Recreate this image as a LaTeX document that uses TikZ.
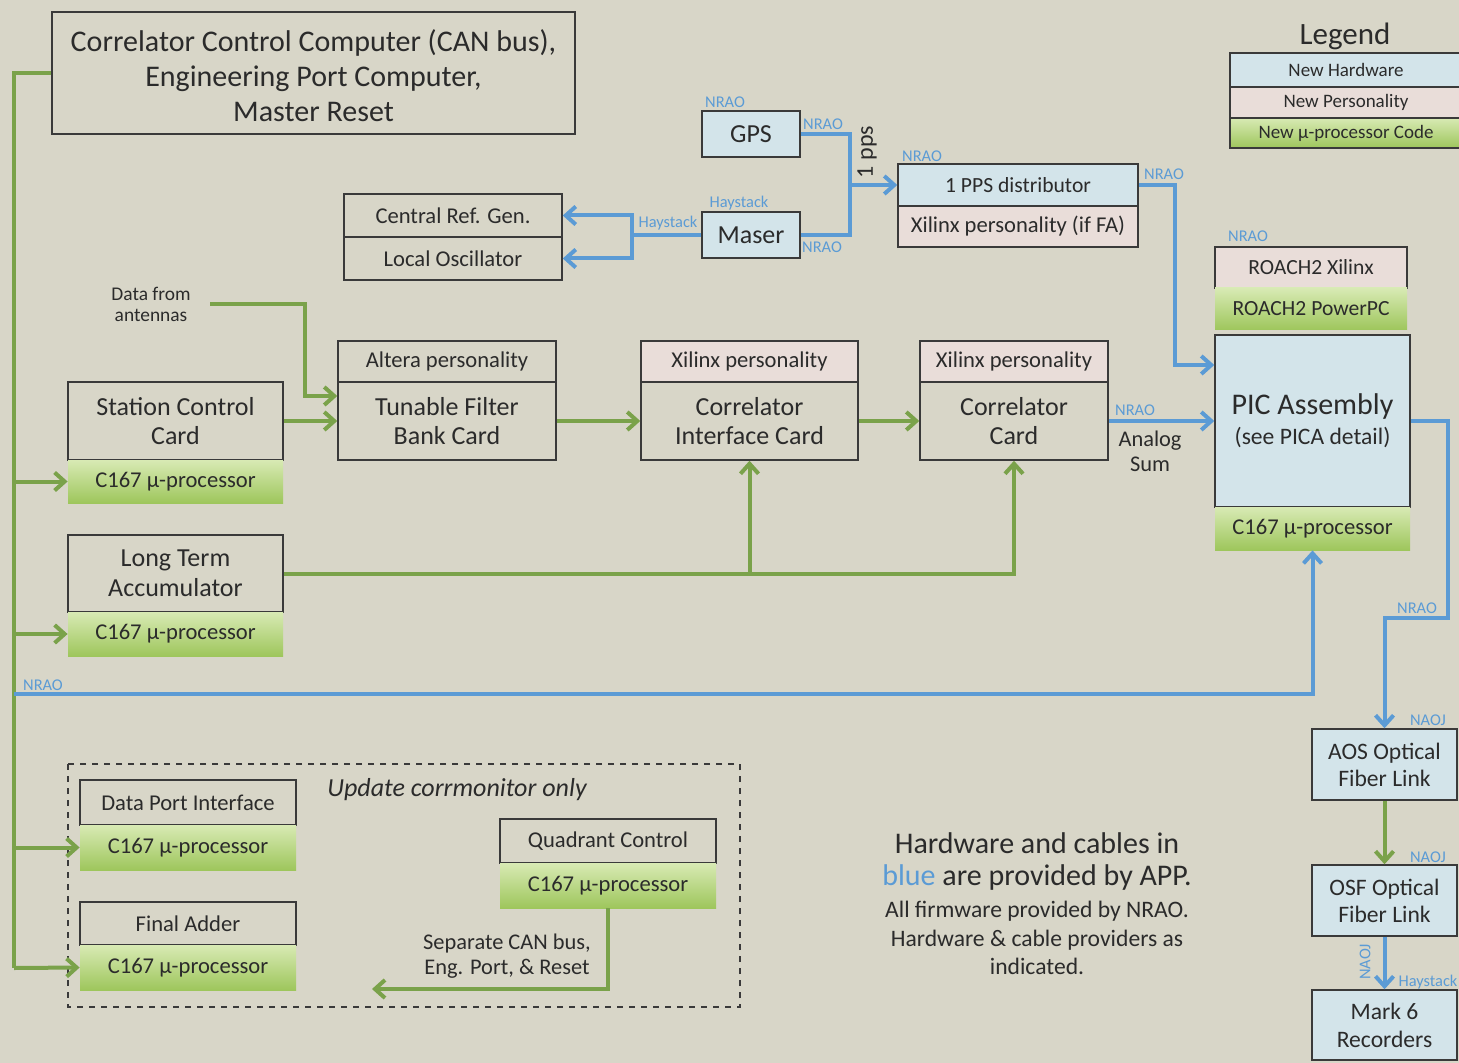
\documentclass[tikz,border=0pt]{standalone}
\usepackage{fontspec}
\setmainfont{Carlito}
\usetikzlibrary{arrows.meta,calc}
\definecolor{bg}{HTML}{D8D6C8}
\definecolor{hwblue}{HTML}{D3E4EA}
\definecolor{perspink}{HTML}{E9DDD9}
\definecolor{gtop}{HTML}{D8EAB4}
\definecolor{gbot}{HTML}{9EC65C}
\definecolor{gline}{HTML}{7AA24A}
\definecolor{bline}{HTML}{5B9BD5}
\definecolor{txt}{HTML}{2B2B2B}
\definecolor{edge}{HTML}{3A3A3A}
\newcommand{\fbig}{\fontsize{15}{17.5}\selectfont}
\newcommand{\fmain}{\fontsize{13}{14.8}\selectfont}
\newcommand{\fone}{\fontsize{11.3}{13}\selectfont}
\newcommand{\fsm}{\fontsize{11.2}{12.5}\selectfont}
\newcommand{\flab}{\fontsize{8.2}{9}\selectfont}
\tikzset{
  bx/.style={draw=edge, line width=0.75pt, inner sep=0pt, align=center, text=txt, font=\fone},
  plain/.style={bx},
  hw/.style={bx, fill=hwblue},
  pers/.style={bx, fill=perspink},
  upc/.style={inner sep=0pt, align=center, text=txt, font=\fone, top color=gtop, bottom color=gbot, draw=none},
  glin/.style={draw=gline, line width=2pt},
  gar/.style={glin, -{Straight Barb[length=5pt,width=9pt]}},
  blin/.style={draw=bline, line width=2pt},
  bar/.style={blin, -{Straight Barb[length=5pt,width=9pt]}},
  lab/.style={text=bline, font=\flab, inner sep=0pt},
  note/.style={text=txt, align=center, inner sep=0pt},
}
\begin{document}
\begin{tikzpicture}[x=0.5pt,y=-0.5pt]
\useasboundingbox (0,0) rectangle (1459,1063);
\fill[bg] (0,0) rectangle (1459,1063);

% dashed group
\draw[edge, line width=0.75pt, dashed] (68,764) rectangle (740,1007);

% top computer
\node[plain, minimum width=261.5pt, minimum height=61pt] (ccc) at (313.5,73) {};
\node[note, font=\fbig] (ccct) at (313.5,76)
  {Correlator Control Computer (CAN bus),\\Engineering Port Computer,\\Master Reset};

% timing
\node[hw, font=\fmain, minimum width=49pt, minimum height=23pt] (gps) at (751,134) {GPS};
\node[hw, font=\fmain, minimum width=49pt, minimum height=23pt] (maser) at (751,235) {Maser};
\node[plain, minimum width=109pt, minimum height=21.5pt] (crg) at (453,215.5) {Central Ref. Gen.};
\node[plain, minimum width=109pt, minimum height=21.5pt] (lo) at (453,258.5) {Local Oscillator};
\node[hw, font=\fontsize{10.8}{12}\selectfont, minimum width=120pt, minimum height=21pt] (pps) at (1018,185) {1 PPS distributor};
\node[pers, minimum width=120pt, minimum height=20.5pt] (xpf) at (1018,226.5) {Xilinx personality (if FA)};

% legend
\node[text=txt, font=\fontsize{15.5}{17}\selectfont, inner sep=0pt] (leg) at (1345,36) {Legend};
\node[hw, font=\fontsize{9.5}{11}\selectfont, minimum width=116pt, minimum height=17pt] (lg1) at (1346,70) {New Hardware};
\node[pers, font=\fontsize{9.5}{11}\selectfont, minimum width=116pt, minimum height=15.5pt] (lg2) at (1346,102.5) {New Personality};
\node[upc, draw=edge, line width=0.75pt, font=\fontsize{9.5}{11}\selectfont, minimum width=116pt, minimum height=15pt] (lg3) at (1346,133) {New µ-processor Code};

% ROACH2 / PIC
\node[pers, font=\fontsize{10.8}{12}\selectfont, minimum width=96pt, minimum height=20.5pt] (rx) at (1311,267.5) {ROACH2 Xilinx};
\node[upc, font=\fontsize{10.8}{12}\selectfont, minimum width=96pt, minimum height=21pt] (rp) at (1311,309) {ROACH2 PowerPC};
\node[hw, font=\fontsize{11.8}{15}\selectfont, minimum width=97.5pt, minimum height=86pt] (pic) at (1312.5,421)
  {{\fontsize{15}{15}\selectfont PIC Assembly}\\(see PICA detail)};
\node[upc, minimum width=97.5pt, minimum height=21.5pt] (pc167) at (1312.5,528.5) {C167 µ-processor};

% main row
\node[plain, font=\fmain, minimum width=107.5pt, minimum height=39pt] (sc) at (175.5,421) {Station Control\\Card};
\node[upc, minimum width=107.5pt, minimum height=21.5pt] (sc167) at (175.5,481.5) {C167 µ-processor};
\node[plain, minimum width=109pt, minimum height=20.5pt] (alt) at (447,361.5) {Altera personality};
\node[plain, font=\fmain, minimum width=109pt, minimum height=39pt] (tfb) at (447,421) {Tunable Filter\\Bank Card};
\node[pers, minimum width=108.5pt, minimum height=20.5pt] (cicx) at (749.5,361.5) {Xilinx personality};
\node[plain, font=\fmain, minimum width=108.5pt, minimum height=39pt] (cic) at (749.5,421) {Correlator\\Interface Card};
\node[pers, minimum width=94pt, minimum height=20.5pt] (ccx) at (1014,361.5) {Xilinx personality};
\node[plain, font=\fmain, minimum width=94pt, minimum height=39pt] (cc) at (1014,421) {Correlator\\Card};
\node[plain, font=\fmain, minimum width=107.5pt, minimum height=38.5pt] (lta) at (175.5,573.5) {Long Term\\Accumulator};
\node[upc, minimum width=107.5pt, minimum height=22pt] (lta167) at (175.5,634) {C167 µ-processor};

% fiber chain
\node[hw, font=\fontsize{11.8}{13.5}\selectfont, minimum width=72.5pt, minimum height=35.5pt] (aos) at (1384.5,764.5) {AOS Optical\\Fiber Link};
\node[hw, font=\fontsize{11.8}{13.5}\selectfont, minimum width=72.5pt, minimum height=35.5pt] (osf) at (1384.5,900.5) {OSF Optical\\Fiber Link};
\node[hw, font=\fontsize{11.8}{14}\selectfont, minimum width=72.5pt, minimum height=35pt] (mk6) at (1384.5,1025) {Mark 6\\Recorders};

% dashed group content
\node[plain, minimum width=108pt, minimum height=22.5pt] (dpi) at (188,802.5) {Data Port Interface};
\node[upc, minimum width=108pt, minimum height=22.5pt] (dpi167) at (188,847.5) {C167 µ-processor};
\node[plain, minimum width=108pt, minimum height=21.5pt] (fa) at (188,923.5) {Final Adder};
\node[upc, minimum width=108pt, minimum height=22.5pt] (fa167) at (188,967.5) {C167 µ-processor};
\node[plain, minimum width=108pt, minimum height=22pt] (qc) at (608,841) {Quadrant Control};
\node[upc, minimum width=108pt, minimum height=22.5pt] (qc167) at (608,885.5) {C167 µ-processor};
\node[note, font=\fmain\itshape] (upd) at (457,790) {Update corrmonitor only};
\node[note, font=\fsm] (sep) at (507,956) {Separate CAN bus,\\Eng. Port, \& Reset};

% notes
\node[note, font=\fontsize{15}{16}\selectfont] (hwn) at (1037,861) {Hardware and cables in\\{\color{bline}blue} are provided by APP.};
\node[note, font=\fontsize{11.8}{14.3}\selectfont] (fwn) at (1037,938) {All firmware provided by NRAO.\\Hardware \& cable providers as\\indicated.};
\node[note, font=\fontsize{9.7}{10.5}\selectfont] (dfa) at (151,304) {Data from\\antennas};
\node[note, font=\fsm] (asum) at (1150,451) {Analog\\Sum};
\node[note, font=\fontsize{12}{13}\selectfont, rotate=90] (pps1) at (867,152) {1 pps};

% coordinates
\coordinate (bustop) at (14,73);
\coordinate (busbot) at (14,968);
\coordinate (nraoL) at (14,694);
\coordinate (dfaend) at (210,304);
\coordinate (dfak) at (305,304);
\coordinate (pj) at (850,185);
\coordinate (mj) at (632,235);
\coordinate (pc1) at (1175,365);
\coordinate (pr) at (1448,618);
\coordinate (qcend) at (372,989);

% green connectors
\draw[glin] (ccc.west) -- (bustop) -- (busbot);
\draw[gar] (sc167.west -| bustop) -- (sc167.west);
\draw[gar] (lta167.west -| bustop) -- (lta167.west);
\draw[gar] (dpi167.west -| bustop) -- (dpi167.west);
\draw[gar] (busbot) -- (fa167.west);
\draw[gar] (dfaend) -- (dfak) |- ([yshift=12.5pt]tfb.west);
\draw[gar] (sc.east) -- (tfb.west);
\draw[gar] (tfb.east) -- (cic.west);
\draw[gar] (cic.east) -- (cc.west);
\draw[gar] (lta.east) -| (cc.south);
\draw[gar] (cic.south |- lta.east) -- (cic.south);
\draw[gar] (qc167.south) |- (qcend);
\draw[gar] (aos.south) -- (osf.north);

% blue connectors
\draw[blin] (gps.east) -| (pj);
\draw[blin] (maser.east) -| (pj);
\draw[bar] (pj) -- (pps.west);
\draw[blin] (maser.west) -- (mj);
\draw[bar] (mj) |- (crg.east);
\draw[bar] (mj) |- (lo.east);
\draw[bar] (pps.east) -| (pc1) -- ([yshift=28pt]pic.west);
\draw[bar] (cc.east) -- (pic.west);
\draw[bar] (pic.east) -| (pr) -| (aos.north);
\draw[bar] (nraoL) -| (pc167.south);
\draw[bar] (osf.south) -- (mk6.north);

% provider labels
\node[lab] at (725,102) {NRAO};
\node[lab] at (823,124) {NRAO};
\node[lab] at (739,203) {Haystack};
\node[lab] at (668,223) {Haystack};
\node[lab] at (822,247) {NRAO};
\node[lab] at (922,156) {NRAO};
\node[lab] at (1164,174) {NRAO};
\node[lab] at (1248,236) {NRAO};
\node[lab] at (1135,410) {NRAO};
\node[lab] at (43,685) {NRAO};
\node[lab] at (1417,608) {NRAO};
\node[lab] at (1428,720) {NAOJ};
\node[lab] at (1428,857) {NAOJ};
\node[lab, rotate=90] at (1365,962) {NAOJ};
\node[lab] at (1428,982) {Haystack};
\end{tikzpicture}
\end{document}
